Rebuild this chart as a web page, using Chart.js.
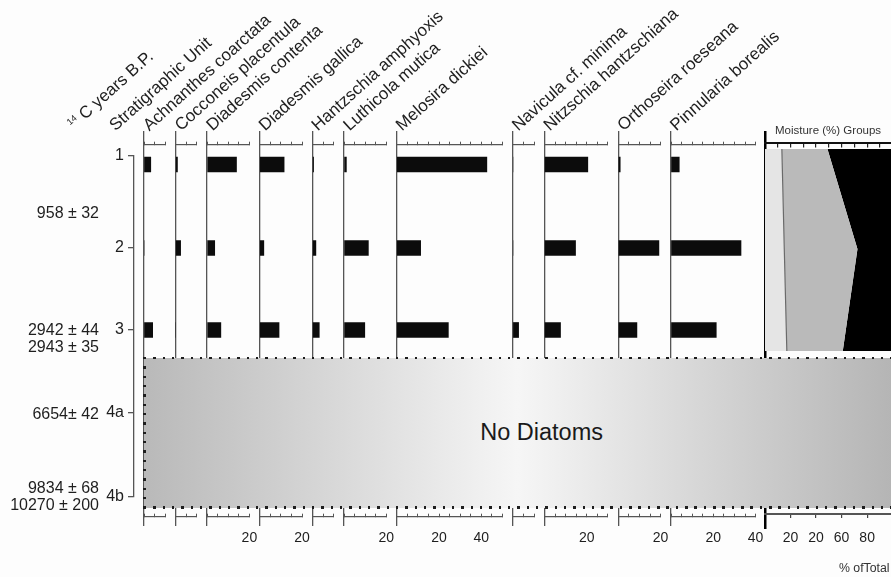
<!DOCTYPE html>
<html>
<head>
<meta charset="utf-8">
<title>Diatom stratigraphy</title>
<script src="https://cdn.jsdelivr.net/npm/chart.js@4.4.1/dist/chart.umd.min.js"></script>
<style>
  html, body { margin: 0; padding: 0; background: #fdfdfd; overflow: hidden; }
  #stage { position: relative; width: 891px; height: 577px; overflow: hidden;
           font-family: 'Liberation Sans', Arial, sans-serif; color: #1e1e1e; }
  #stage canvas { position: absolute; }
  #barren { position: absolute; left: 144px; top: 357.5px; width: 747px; height: 150px; z-index: 5;
            background: linear-gradient(to right, #b9b9b9 0%, #f6f6f6 50%, #b5b5b5 100%); }
  #barren span { position: absolute; left: 397.6px; top: 74.5px; transform: translate(-50%, -50%);
                 font-size: 23.5px; white-space: nowrap; color: #1a1a1a; }
  .dots-h { position: absolute; height: 2.4px; z-index: 6;
            background: repeating-linear-gradient(to right, #1e1e1e 0 2.4px, transparent 2.4px 9.33px); }
  .dots-v { position: absolute; width: 2.4px; z-index: 6;
            background: repeating-linear-gradient(to bottom, #1e1e1e 0 2.4px, transparent 2.4px 9.33px); }
  #labels { position: absolute; left: 0; top: 0; z-index: 7; }
</style>
</head>
<body>
<div id="stage">
  <div id="barren"><span>No Diatoms</span></div>
  <div class="dots-h" style="left:144px; top:356.5px; width:747px;"></div>
  <div class="dots-h" style="left:144px; top:506.3px; width:747px;"></div>
  <div class="dots-v" style="left:143.3px; top:356.5px; height:152px;"></div>
</div>
<script>
// ---------------- data ----------------
const taxa = [
  'Achnanthes coarctata', 'Cocconeis placentula', 'Diadesmis contenta', 'Diadesmis gallica',
  'Hantzschia amphyoxis', 'Luthicola mutica', 'Melosira dickiei', 'Navicula cf. minima',
  'Nitzschia hantzschiana', 'Orthoseira roeseana', 'Pinnularia borealis'
];
// axis extent (%) of each taxon panel
const taxonMax = [10, 10, 20, 20, 10, 20, 50, 10, 30, 20, 40];
// percent of total valves, one array per sample
const unit1Sample = [3.2, 0.9, 13.9, 11.5, 0.5, 1.1, 42.6, 0, 20.5, 0.9, 3.9];
const unit2Sample = [0, 2.4, 3.6, 1.9, 1.6, 11.5, 11.3, 0, 14.7, 19.2, 33.1];
const unit3Sample = [4.1, 0, 6.5, 9.1, 3.2, 9.8, 24.4, 2.7, 7.6, 8.8, 21.4];
const sampleDepths = [8.5, 92, 174];
const taxonTickLabels = [20, 40];

// stratigraphic units and radiocarbon ages
const unitLabels = ['1', '2', '3', '4a', '4b'];
const unitDepths = [0, 92, 174, 257, 341];
const ageLabels = ['958 ± 32', '2942 ± 44', '2943 ± 35', '6654± 42', '9834 ± 68', '10270 ± 200'];
const ageDepths = [58, 175, 192, 259, 333, 350];

// moisture groups (% of total), stacked left to right
const moistureDepths = [-7, 93, 195];
const moistureGroupA = [13.2, 15.1, 17.1];
const moistureGroupB = [35.7, 57.3, 43.8];
const moistureGroupC = [51.1, 27.6, 39.1];
const moistureTickValues = [20, 40, 60, 80];
const moistureTickText = ['20', '20', '60', '80'];

// ---------------- layout ----------------
const FRAME_TOP = 132;              // pixel row of depth DEPTH_TOP
const DEPTH_TOP = -24;
const DEPTH_BOTTOM = 369;           // 1 px per depth unit
const TOP_AXIS_DEPTH = -11.5;
const BOTTOM_AXIS_DEPTH = 360.7;
const PX_PER_PCT = 2.115;
const PANEL_GAP = 10.4;
const FIRST_PANEL_X = 144;
const MOISTURE_X = 765;
const MOISTURE_PX_PER_PCT = 1.277;
const MARGIN = 40;                  // canvas room around each plot area for tick labels
const AXIS_GREY = '#555';
const INK = '#1e1e1e';

Chart.defaults.font.family = "'Liberation Sans', Arial, sans-serif";
Chart.defaults.color = INK;

const stage = document.getElementById('stage');
function addCanvas(left, top, width, height) {
  const c = document.createElement('canvas');
  c.width = width; c.height = height;
  c.style.left = left + 'px'; c.style.top = top + 'px';
  c.style.width = width + 'px'; c.style.height = height + 'px';
  stage.insertBefore(c, stage.firstChild);
  return c;
}

const base = {
  responsive: false, animation: false, devicePixelRatio: 1, events: [],
  plugins: { legend: { display: false }, tooltip: { enabled: false } }
};

function depthScale(max, borderColor, borderWidth) {
  return {
    type: 'linear', reverse: true, min: DEPTH_TOP, max: max, offset: false, position: 'left',
    afterFit: s => { s.width = 0; },
    ticks: { display: false },
    grid: { display: false, drawTicks: false, offset: false },
    border: { display: true, color: borderColor, width: borderWidth }
  };
}

function taxonAxis(max, depth, withLabels) {
  return {
    type: 'linear', axis: 'x', min: 0, max: max, position: { y: depth },
    ticks: withLabels ? {
      stepSize: 5, autoSkip: false, maxRotation: 0, minRotation: 0, padding: 17,
      font: { size: 14 }, color: INK,
      callback: v => taxonTickLabels.includes(v) ? String(v) : ''
    } : { display: false, stepSize: 5 },
    grid: { drawOnChartArea: false, drawTicks: true, tickLength: -3.5, color: AXIS_GREY, lineWidth: 1 },
    border: { display: true, color: AXIS_GREY, width: 1.2 }
  };
}

// ---------------- taxon panels ----------------
const samples = [unit1Sample, unit2Sample, unit3Sample];
const panelLefts = [];
let panelX = FIRST_PANEL_X;
taxa.forEach((name, i) => {
  panelLefts.push(panelX);
  const w = taxonMax[i] * PX_PER_PCT;
  const cl = Math.floor(panelX) - MARGIN, ct = 120, cw = Math.ceil(w) + 2 * MARGIN, ch = 440;
  const padL = panelX - cl;
  const padT = FRAME_TOP - ct;
  const canvas = addCanvas(cl, ct, cw, ch);
  new Chart(canvas, {
    type: 'bar',
    data: {
      datasets: [{
        label: name,
        data: sampleDepths.map((d, s) => ({ x: samples[s][i], y: d })),
        backgroundColor: '#0c0c0c', borderWidth: 0, barThickness: 15
      }]
    },
    options: {
      ...base,
      indexAxis: 'y',
      layout: { padding: { left: padL, right: cw - padL - w, top: padT, bottom: ch - padT - (DEPTH_BOTTOM - DEPTH_TOP) } },
      scales: {
        y: depthScale(DEPTH_BOTTOM, AXIS_GREY, 1.3),
        x: taxonAxis(taxonMax[i], TOP_AXIS_DEPTH, false),
        x2: taxonAxis(taxonMax[i], BOTTOM_AXIS_DEPTH, true)
      }
    }
  });
  panelX += w + PANEL_GAP;
});

// ---------------- moisture groups ----------------
(function () {
  const w = 100 * MOISTURE_PX_PER_PCT;
  const bottom = 372;
  const cl = MOISTURE_X - MARGIN, ct = 120, cw = Math.ceil(w) + 2 * MARGIN, ch = 440;
  const padL = MOISTURE_X - cl, padT = FRAME_TOP - ct;
  const canvas = addCanvas(cl, ct, cw, ch);
  const series = (vals) => moistureDepths.map((d, k) => ({ x: vals[k], y: d }));
  new Chart(canvas, {
    type: 'line',
    data: {
      datasets: [
        { label: 'A', data: series(moistureGroupA), backgroundColor: '#e5e5e5', borderColor: '#6a6a6a', borderWidth: 1.2, fill: 'origin', pointRadius: 0, tension: 0 },
        { label: 'B', data: series(moistureGroupB), backgroundColor: '#bababa', borderWidth: 0, fill: '-1', pointRadius: 0, tension: 0 },
        { label: 'C', data: series(moistureGroupC), backgroundColor: '#000000', borderWidth: 0, fill: '-1', pointRadius: 0, tension: 0 }
      ]
    },
    options: {
      ...base,
      indexAxis: 'y',
      layout: { padding: { left: padL, right: cw - padL - w, top: padT, bottom: ch - padT - (bottom - DEPTH_TOP) } },
      scales: {
        y: depthScale(bottom, '#000', 2.5),
        x: {
          type: 'linear', stacked: true, min: 0, max: 100, position: { y: -13.3 },
          ticks: { display: false, stepSize: 10 },
          grid: { drawOnChartArea: false, tickLength: 3.5, color: '#222', lineWidth: 1.2 },
          border: { display: true, color: '#111', width: 2 }
        },
        x2: {
          type: 'linear', axis: 'x', min: 0, max: 100, position: { y: 358 },
          ticks: {
            stepSize: 20, autoSkip: false, maxRotation: 0, minRotation: 0, padding: 12.6,
            font: { size: 14 }, color: INK,
            callback: v => { const k = moistureTickValues.indexOf(v); return k >= 0 ? moistureTickText[k] : ''; }
          },
          grid: { drawOnChartArea: false, tickLength: 3, color: '#444', lineWidth: 1.2 },
          border: { display: true, color: AXIS_GREY, width: 2 }
        }
      }
    }
  });
})();

// ---------------- stratigraphic unit axis ----------------
(function () {
  const canvas = addCanvas(0, 140, 160, 380);
  const span = unitDepths[unitDepths.length - 1] - unitDepths[0];
  new Chart(canvas, {
    type: 'scatter',
    data: { datasets: [] },
    options: {
      ...base,
      layout: { padding: { left: 94, right: 23, top: 16, bottom: 380 - 16 - span } },
      scales: {
        x: { display: false, min: 0, max: 1 },
        y: {
          type: 'linear', reverse: true, min: unitDepths[0], max: unitDepths[unitDepths.length - 1],
          position: 'left',
          afterFit: s => { s.width = 40; },
          afterBuildTicks: s => { s.ticks = unitDepths.map(v => ({ value: v })); },
          ticks: { autoSkip: false, padding: 4, font: { size: 16 }, color: INK, callback: (v, i) => unitLabels[i] },
          grid: { drawOnChartArea: false, tickLength: 6, color: AXIS_GREY, lineWidth: 1.3 },
          border: { display: true, color: AXIS_GREY, width: 1.3 }
        }
      }
    }
  });
})();

// ---------------- radiocarbon ages ----------------
(function () {
  const canvas = addCanvas(0, 120, 110, 420);
  new Chart(canvas, {
    type: 'scatter',
    data: { datasets: [] },
    options: {
      ...base,
      layout: { padding: { left: 0, right: 5, top: 12, bottom: 420 - 12 - (DEPTH_BOTTOM - DEPTH_TOP) } },
      scales: {
        x: { display: false, min: 0, max: 1 },
        y: {
          type: 'linear', reverse: true, min: DEPTH_TOP, max: DEPTH_BOTTOM, position: 'left',
          afterFit: s => { s.width = 100; },
          afterBuildTicks: s => { s.ticks = ageDepths.map(v => ({ value: v })); },
          ticks: { autoSkip: false, padding: 1, font: { size: 16 }, color: INK, callback: (v, i) => ageLabels[i] },
          grid: { display: false, drawTicks: false },
          border: { display: false }
        }
      }
    }
  });
})();

// ---------------- column headings ----------------
(function () {
  const ANGLE = -42;
  const font = "font-family=\"'Liberation Sans', Arial, sans-serif\"";
  let svg = `<svg id="labels" width="891" height="577" xmlns="http://www.w3.org/2000/svg" ${font} fill="${INK}">`;
  svg += `<text transform="translate(74,130) rotate(${ANGLE})" font-size="17">` +
         `<tspan font-size="9" dy="-6">14</tspan><tspan dy="6"> C years B.P.</tspan></text>`;
  svg += `<text transform="translate(115.5,131.5) rotate(${ANGLE})" font-size="17">Stratigraphic Unit</text>`;
  taxa.forEach((name, i) => {
    svg += `<text transform="translate(${(panelLefts[i] + 5.3).toFixed(1)},131.5) rotate(${ANGLE})" ` +
           `font-size="17">${name}</text>`;
  });
  svg += `<text x="775" y="133.5" font-size="11.5" fill="#333">Moisture (%) Groups</text>`;
  svg += `<text x="839" y="572" font-size="12.3" fill="#333">% ofTotal</text>`;
  svg += `</svg>`;
  stage.insertAdjacentHTML('beforeend', svg);
})();
</script>
</body>
</html>
